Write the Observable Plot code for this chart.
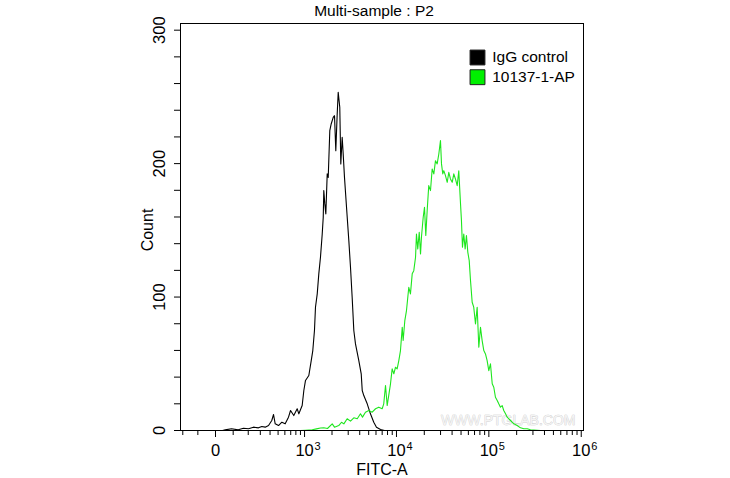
<!DOCTYPE html>
<html><head><meta charset="utf-8">
<script src="https://cdn.jsdelivr.net/npm/d3@7"></script>
<script src="https://cdn.jsdelivr.net/npm/@observablehq/plot@0.6"></script>
<style>body{margin:0;background:#fff} svg{display:block}</style>
</head><body><div id="chart"></div>
<script>
const title = "Multi-sample : P2";
const xLabel = "FITC-A";
const yLabel = "Count";
const watermark = "WWW.PTGLAB.COM";
const seriesNames = ["IgG control", "10137-1-AP"];
const seriesColors = ["#000000", "#1ee61e"];
const legendFills = ["#000000", "#00f000"];

// Histogram bins: x in biexponential display units (decades of FITC-A), y = count
const iggX = [0.076,0.105,0.173,0.246,0.303,0.357,0.411,0.465,0.501,0.538,0.574,0.609,0.628,0.646,0.682,0.718,0.754,0.790,0.812,0.847,0.884,0.902,0.938,0.956,0.974,1.010,1.036,1.053,1.071,1.082,1.101,1.118,1.136,1.155,1.166,1.172,1.183,1.194,1.209,1.220,1.237,1.252,1.274,1.288,1.302,1.317,1.328,1.345,1.356,1.371,1.382,1.396,1.418,1.443,1.461,1.479,1.497,1.515,1.551,1.577,1.588,1.605,1.642,1.677,1.713,1.742,1.786,1.829];
const iggCount = [0,0.5,1.3,0.5,1.7,1.3,2.5,2.0,3.0,2.5,3.7,7.5,12.0,5.0,3.7,6.2,5.0,10.0,15.0,11.2,16.3,12.5,18.7,30.0,37.5,41.2,52.4,59.9,74.9,92.4,102.4,117.4,129.8,147.3,159.8,179.8,169.8,162.3,192.3,189.7,224.7,229.7,234.7,235.9,209.7,237.2,253.4,242.2,199.8,219.7,207.2,189.7,167.3,142.3,122.3,99.8,74.9,64.9,52.4,42.5,30.0,26.2,20.0,12.5,6.2,2.5,0.7,0];

const apX = [0.920,0.974,1.047,1.093,1.136,1.172,1.212,1.263,1.288,1.334,
1.364,1.389,1.425,1.461,1.497,1.534,1.569,1.591,1.623,1.659,
1.696,1.732,1.767,1.804,1.821,1.840,1.858,1.894,1.912,1.930,
1.948,1.966,1.984,2.002,2.021,2.031,2.049,2.067,2.092,2.110,
2.129,2.146,2.165,2.175,2.189,2.205,2.219,2.229,2.248,2.262,
2.276,2.291,2.308,2.327,2.345,2.363,2.381,2.399,2.417,2.435,
2.446,2.460,2.471,2.489,2.508,2.525,2.543,2.562,2.579,2.597,
2.616,2.633,2.652,2.662,2.673,2.687,2.702,2.716,2.731,2.746,
2.760,2.778,2.795,2.814,2.832,2.850,2.868,2.886,2.904,2.922,
2.940,2.958,2.976,2.995,3.012,3.030,3.049,3.066,3.084,3.103,
3.120,3.139,3.157,3.193,3.229,3.265,3.301,3.337,3.374,3.409,3.517];
const apCount = [0,0.2,0.5,1.2,1.9,2.0,1.5,5.0,2.5,3.7,
6.2,5.0,8.8,7.0,9.5,8.8,12.5,10.0,13.7,15.0,
13.7,16.3,17.5,16.3,20.0,33.7,18.7,35.0,46.2,42.5,
47.4,46.2,52.4,59.9,77.4,67.4,82.4,89.9,107.3,102.4,
117.4,119.8,129.8,147.3,136.1,148.5,132.3,144.8,159.8,167.3,
146.1,164.8,183.5,179.8,196.0,192.3,202.2,199.8,207.2,217.2,
199.8,192.3,194.7,191.0,186.0,193.5,188.5,186.0,192.3,188.5,
183.5,194.7,169.8,157.3,137.3,147.3,136.1,146.1,133.5,127.3,
112.4,96.1,92.4,79.9,92.4,62.4,77.4,67.4,59.9,57.4,
52.4,44.9,50.0,35.0,32.4,24.9,22.5,20.0,17.5,18.7,
15.0,12.5,10.0,7.5,5.0,3.7,2.0,1.3,1.3,0.5,0];

// axis ticks (FITC-A values) and labels
const xMajorValues = [0, 1e3, 1e4, 1e5, 1e6];
const xMajorBase = ["0", "10", "10", "10", "10"];
const xMajorExp = ["", "3", "4", "5", "6"];
const xMinorValues = [-200,-100,100,200,300,400,500,600,700,800,900,
  2000,3000,4000,5000,6000,7000,8000,9000,
  20000,30000,40000,50000,60000,70000,80000,90000,
  200000,300000,400000,500000,600000,700000,800000,900000];
const yMajor = [0, 100, 200, 300];
const yMinor = [20,40,60,80,120,140,160,180,220,240,260,280];
const xDomain = [-0.379, 3.983];
const yDomain = [0, 305];

// biexponential (arcsinh) display transform, value -> decades
const biex = v => Math.asinh(v / 220) / Math.LN10;

const toRows = (xs, ys, name) => xs.slice(0, Math.min(xs.length, ys.length)).map((x, i) => ({x, count: ys[i], series: name}));
const igg = toRows(iggX, iggCount, seriesNames[0]);
const ap = toRows(apX, apCount, seriesNames[1]);

const font = "'Liberation Sans', Arial, Helvetica, sans-serif";
const C = {textAnchor: "middle", lineAnchor: "middle"};

const legendMarks = seriesNames.flatMap((name, i) => [
  Plot.dot([name], {frameAnchor: "top-left", dx: 297, dy: 34 + i * 19.7, symbol: "square", r: 8.4,
    fill: legendFills[i], stroke: "#202020", strokeWidth: 1}),
  Plot.text([name], {frameAnchor: "top-left", dx: 311.7, dy: 34 + i * 19.7, text: d => d,
    textAnchor: "start", lineAnchor: "middle", fontSize: 15.5, fill: "#000"})
]);

const chart = Plot.plot({
  width: 730, height: 478,
  marginLeft: 180, marginRight: 147, marginTop: 23, marginBottom: 48,
  style: {fontFamily: font, fontSize: "15px", background: "#fff", color: "#000"},
  x: {domain: xDomain, axis: null},
  y: {domain: yDomain, axis: null},
  marks: [
    Plot.text([watermark], {frameAnchor: "bottom-right", dx: -8, dy: -9.5, textAnchor: "end", lineAnchor: "middle",
      fontSize: 14, fill: "#f4f4f4", stroke: "#c4c4c4", strokeWidth: 0.6}),
    Plot.line(igg, {x: "x", y: "count", stroke: seriesColors[0], strokeWidth: 1.1}),
    Plot.line(ap, {x: "x", y: "count", stroke: seriesColors[1], strokeWidth: 1.1}),
    Plot.frame({stroke: "#000", strokeWidth: 1}),
    Plot.axisX({ticks: xMajorValues.map(biex), tickSize: 7, tickFormat: () => "", label: null}),
    Plot.axisX({ticks: xMinorValues.map(biex), tickSize: 5, tickFormat: () => "", label: null}),
    Plot.axisY({ticks: yMajor.concat(yMinor), tickSize: 6, tickFormat: () => "", label: null}),
    Plot.text(xMajorValues, {x: biex, text: (d, i) => xMajorBase[i], frameAnchor: "bottom", dy: 20.5, fontSize: 16.5, ...C}),
    Plot.text(xMajorValues, {x: biex, text: (d, i) => xMajorExp[i], frameAnchor: "bottom", dy: 16, dx: 13, fontSize: 11, ...C}),
    Plot.text(yMajor, {y: d => d, text: d => String(d), frameAnchor: "left", rotate: -90, dx: -21, fontSize: 16.5, ...C}),
    Plot.text([yLabel], {frameAnchor: "left", rotate: -90, dx: -33, dy: 3, fontSize: 16, ...C}),
    Plot.text([xLabel], {frameAnchor: "bottom", dy: 39.5, fontSize: 16, ...C}),
    Plot.text([title], {frameAnchor: "top", dy: -12, dx: -8, fontSize: 15.5, ...C}),
    ...legendMarks
  ]
});
document.getElementById("chart").appendChild(chart);
</script>
</body></html>
